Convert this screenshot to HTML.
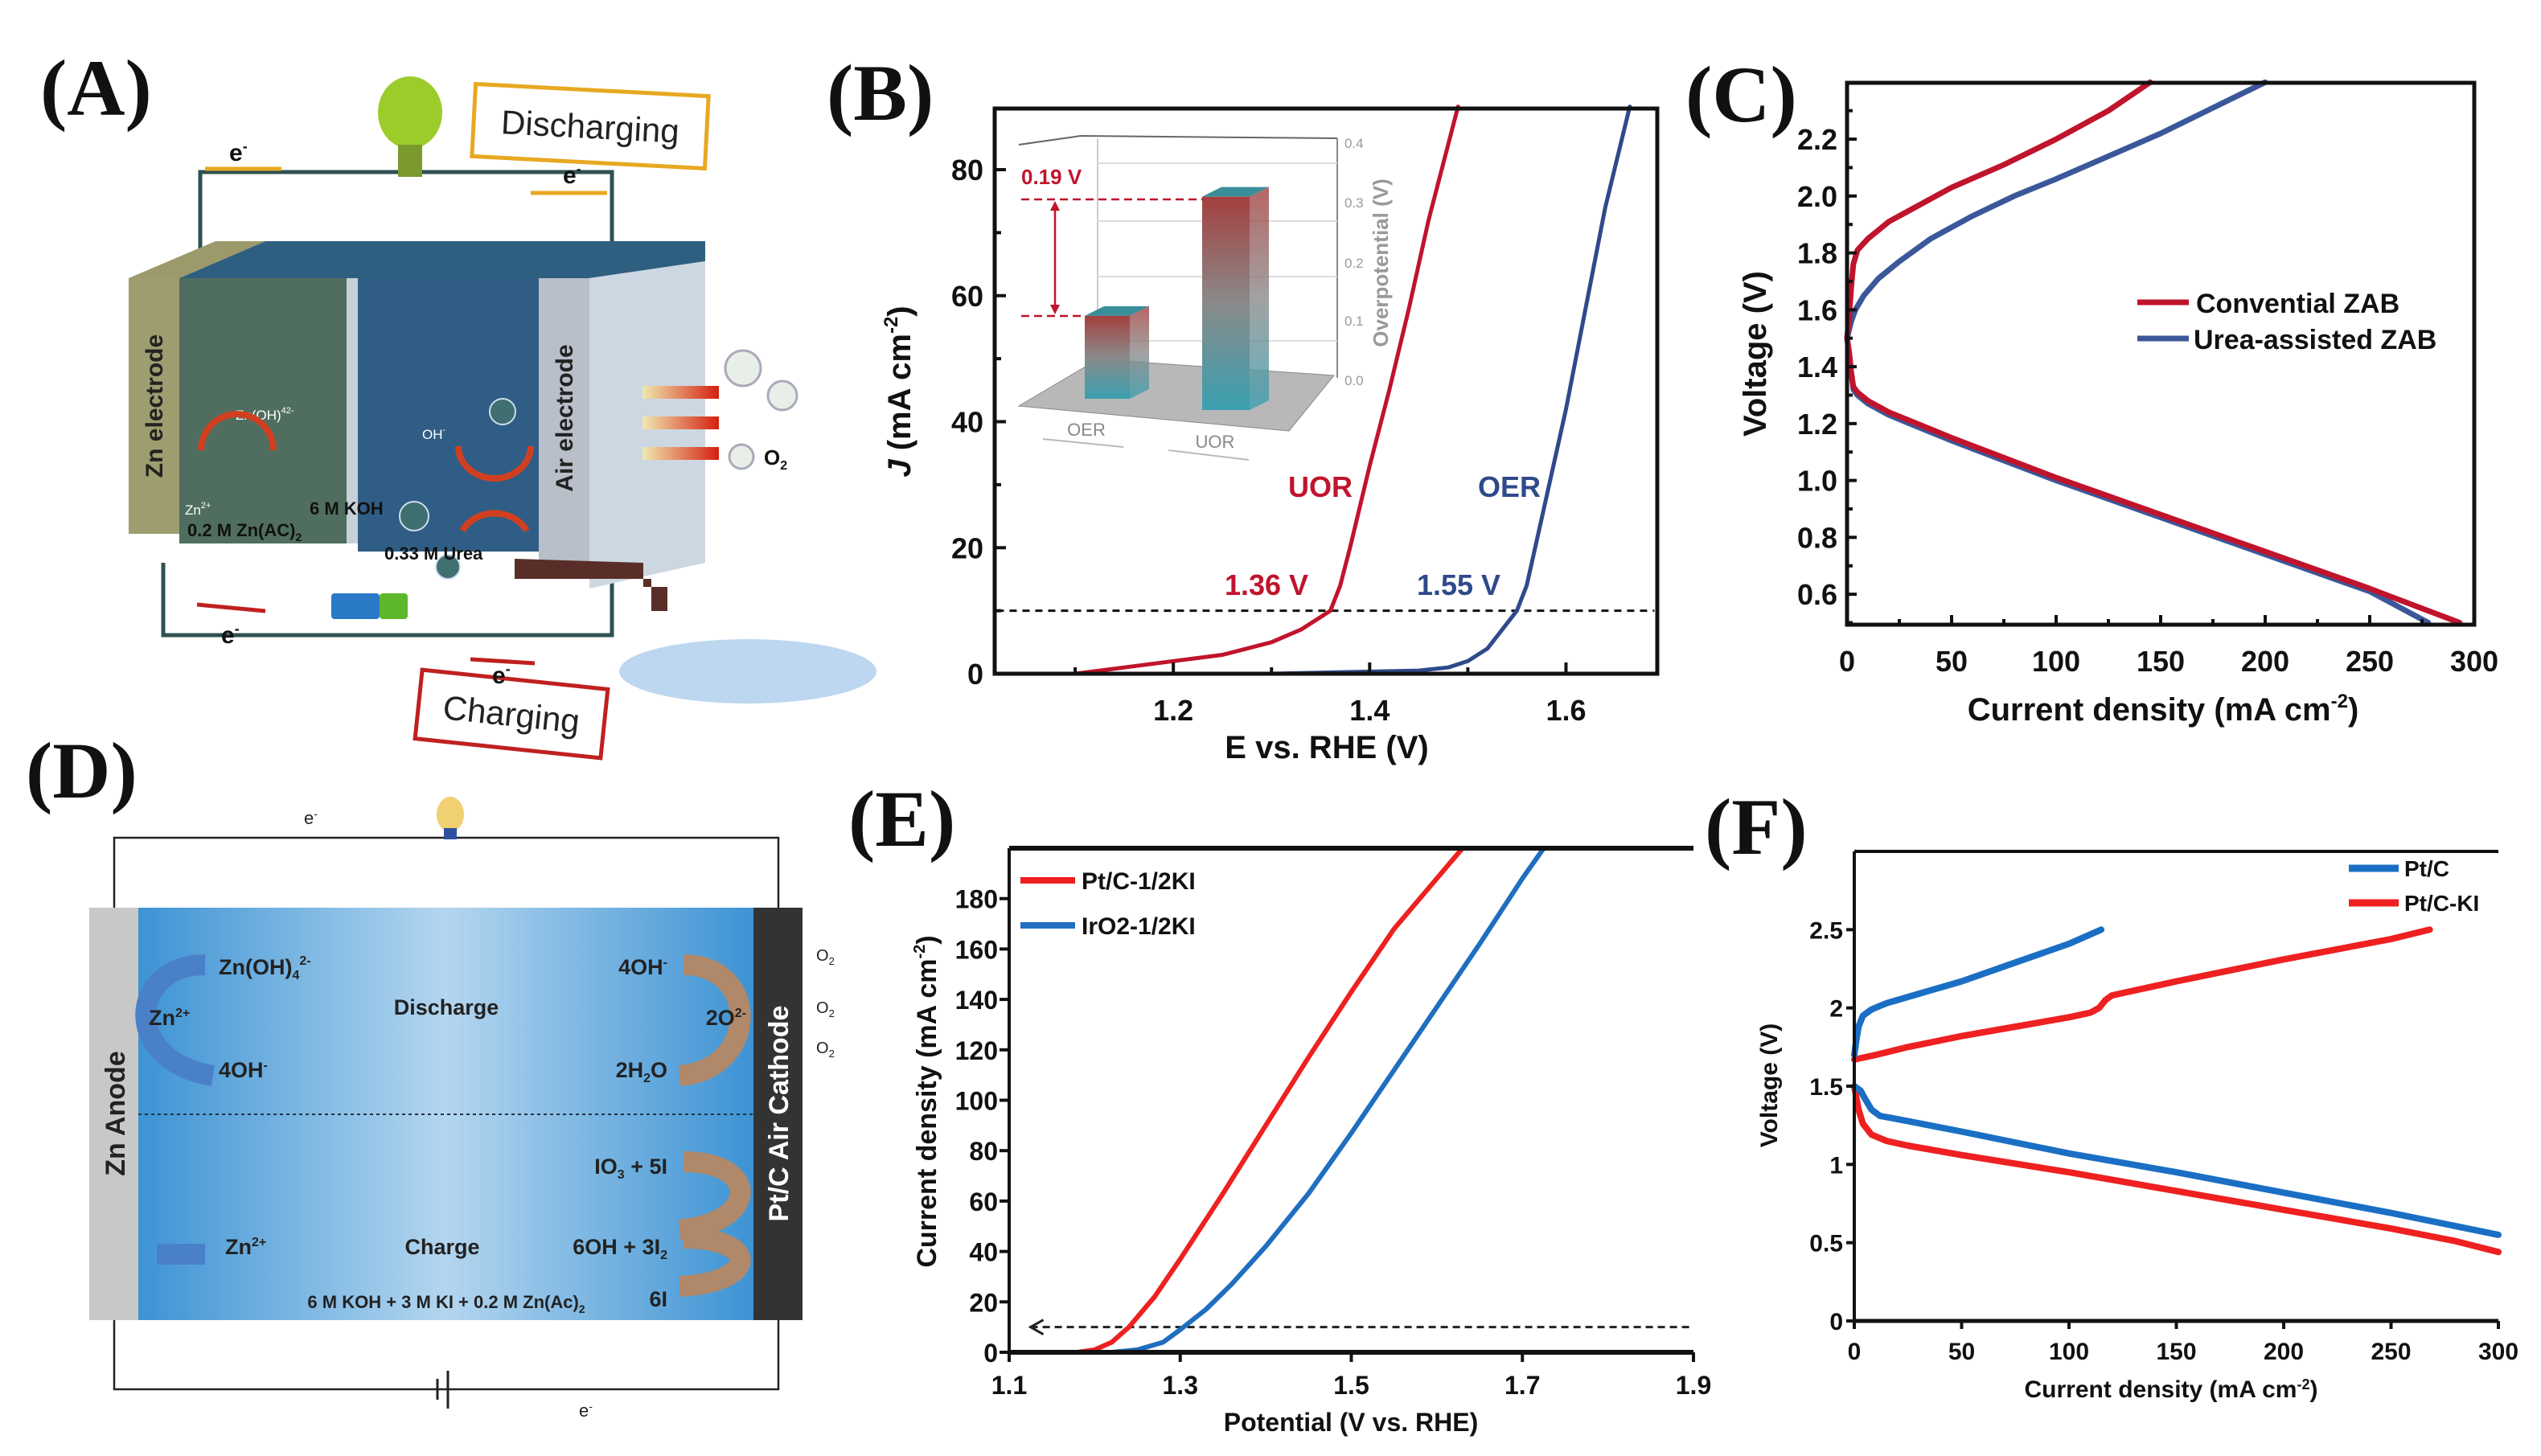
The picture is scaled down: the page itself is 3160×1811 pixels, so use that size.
<!DOCTYPE html>
<html><head><meta charset="utf-8"><style>
html,body{margin:0;padding:0;background:#fff;}
svg{display:block;font-family:"Liberation Sans",sans-serif;}
</style></head><body>
<svg id="fig" width="3160" height="1811" viewBox="0 0 3160 1811" xmlns="http://www.w3.org/2000/svg">
<defs>
<linearGradient id="gD" x1="0" x2="1" y1="0" y2="0"><stop offset="0" stop-color="#3d93d4"/><stop offset="0.5" stop-color="#b4d6ef"/><stop offset="1" stop-color="#3d93d4"/></linearGradient>
<linearGradient id="barG" x1="0" x2="0" y1="0" y2="1"><stop offset="0" stop-color="#a4403f"/><stop offset="0.5" stop-color="#8a8a8a"/><stop offset="1" stop-color="#3aa0b0"/></linearGradient>
<linearGradient id="arrO" x1="0" x2="1"><stop offset="0" stop-color="#d42010"/><stop offset="1" stop-color="#f0e8b0"/></linearGradient>
</defs>

<!-- panel labels -->
<g font-family="Liberation Serif, serif" font-weight="bold" font-size="100" fill="#111">
<text x="50" y="143">(A)</text>
<text x="1028" y="149">(B)</text>
<text x="2096" y="151">(C)</text>
<text x="32" y="992">(D)</text>
<text x="1055" y="1052">(E)</text>
<text x="2120" y="1062">(F)</text>
</g>

<!-- Panel A schematic -->
<g>
<polyline points="249,330 249,214 761,214 761,330" fill="none" stroke="#2f5050" stroke-width="5"/>
<polyline points="203,700 203,790 761,790 761,700" fill="none" stroke="#2f5050" stroke-width="5"/>
<polygon points="223,346 330,300 877,300 877,325 733,346" fill="#2f5f80"/>
<polygon points="160,346 223,346 330,300 268,300" fill="#9c9a6a"/>
<rect x="160" y="346" width="63" height="318" fill="#9e9d70"/>
<rect x="223" y="346" width="208" height="330" fill="#4f6e5f"/>
<rect x="431" y="346" width="14" height="330" fill="#c8d0d8"/>
<rect x="445" y="346" width="225" height="340" fill="#2f5d85"/>
<rect x="670" y="346" width="63" height="352" fill="#b8bfc8"/>
<polygon points="733,346 877,325 877,700 733,732" fill="#cdd7e2"/>
<text transform="translate(202,505) rotate(-90)" text-anchor="middle" font-weight="bold" font-size="30" fill="#222">Zn electrode</text>
<text transform="translate(712,520) rotate(-90)" text-anchor="middle" font-weight="bold" font-size="30" fill="#222">Air electrode</text>
<g font-size="17" fill="#fff"><text x="293" y="522">Zn(OH)<tspan font-size="11" dy="-8">4</tspan><tspan font-size="11">2-</tspan></text><text x="230" y="640">Zn<tspan font-size="11" dy="-8">2+</tspan></text>
<text x="525" y="546">OH<tspan font-size="11" dy="-8">-</tspan></text><text x="610" y="708">Urea</text></g>
<circle cx="278" cy="520" r="0" />
<path d="M250,560 A40,40 0 1,1 340,560" fill="none" stroke="#d04020" stroke-width="8"/>
<path d="M570,555 A45,40 0 0,0 660,555" fill="none" stroke="#d04020" stroke-width="8"/>
<path d="M575,660 A45,40 0 0,1 655,660" fill="none" stroke="#d04020" stroke-width="8"/>
<circle cx="625" cy="512" r="16" fill="#3f6f70" stroke="#cde" stroke-width="2"/><circle cx="515" cy="642" r="18" fill="#3f6f70" stroke="#cde" stroke-width="2"/><circle cx="557" cy="705" r="15" fill="#3f6f70" stroke="#cde" stroke-width="2"/>
<g font-weight="bold" font-size="22" fill="#111"><text x="385" y="640">6 M KOH</text><text x="233" y="667">0.2 M Zn(AC)<tspan font-size="14" dy="6">2</tspan></text><text x="478" y="696">0.33 M Urea</text></g>
<g><rect x="800" y="480" width="95" height="16" fill="url(#arrO)" transform="rotate(180 847 488)"/><rect x="800" y="518" width="95" height="16" fill="url(#arrO)" transform="rotate(180 847 526)"/><rect x="800" y="556" width="95" height="16" fill="url(#arrO)" transform="rotate(180 847 564)"/></g>
<circle cx="924" cy="458" r="22" fill="#e8efe8" stroke="#aab" stroke-width="3"/><circle cx="973" cy="492" r="18" fill="#e8efe8" stroke="#aab" stroke-width="3"/><circle cx="922" cy="568" r="15" fill="#e8efe8" stroke="#aab" stroke-width="3"/>
<text x="950" y="578" font-weight="bold" font-size="26" fill="#111">O<tspan font-size="16" dy="6">2</tspan></text>
<ellipse cx="510" cy="140" rx="40" ry="45" fill="#9ccc2a"/><rect x="495" y="180" width="30" height="40" fill="#7a9a30"/>
<rect x="589" y="112" width="290" height="90" fill="#fff" stroke="#e8a820" stroke-width="5" transform="rotate(3 734 157)"/>
<text x="734" y="172" text-anchor="middle" font-size="42" fill="#222" transform="rotate(3 734 157)">Discharging</text>
<rect x="520" y="845" width="232" height="86" fill="#fff" stroke="#c02020" stroke-width="5" transform="rotate(6 636 888)"/>
<text x="636" y="903" text-anchor="middle" font-size="42" fill="#222" transform="rotate(6 636 888)">Charging</text>
<g font-weight="bold" font-size="30" fill="#111"><text x="285" y="200">e<tspan font-size="18" dy="-12">-</tspan></text><text x="700" y="228">e<tspan font-size="18" dy="-12">-</tspan></text><text x="275" y="800">e<tspan font-size="18" dy="-12">-</tspan></text><text x="612" y="850">e<tspan font-size="18" dy="-12">-</tspan></text></g>
<g stroke="#e8a820" stroke-width="5"><line x1="255" y1="210" x2="350" y2="210"/><line x1="660" y1="240" x2="755" y2="240"/></g>
<g stroke="#c02020" stroke-width="5"><line x1="245" y1="752" x2="330" y2="760"/><line x1="585" y1="820" x2="665" y2="825"/></g>
<rect x="412" y="738" width="60" height="32" fill="#2a7ac8" rx="4"/><rect x="472" y="738" width="35" height="32" fill="#5cb82a" rx="4"/>
<path d="M640,695 L800,700 L800,730 L830,730 L830,760 L810,760 L810,720 L640,720 Z" fill="#5a2e28"/>
<ellipse cx="930" cy="835" rx="160" ry="40" fill="#9fc6e8" opacity="0.7"/>
</g>

<!-- Panel D schematic -->
<g>
<polyline points="142,1129 142,1042 968,1042 968,1129" fill="none" stroke="#222" stroke-width="2.5"/>
<polyline points="142,1642 142,1728 968,1728 968,1642" fill="none" stroke="#222" stroke-width="2.5"/>
<line x1="544" y1="1715" x2="544" y2="1741" stroke="#222" stroke-width="3"/><line x1="557" y1="1705" x2="557" y2="1752" stroke="#222" stroke-width="3"/>
<ellipse cx="560" cy="1013" rx="17" ry="22" fill="#f0d070"/><rect x="552" y="1030" width="16" height="14" fill="#3050a0"/>
<text x="378" y="1025" font-size="22" fill="#222">e<tspan font-size="14" dy="-8">-</tspan></text>
<text x="720" y="1762" font-size="22" fill="#222">e<tspan font-size="14" dy="-8">-</tspan></text>
<rect x="111" y="1129" width="61" height="513" fill="#c8c8c8"/>
<rect x="172" y="1129" width="765" height="513" fill="url(#gD)"/>
<rect x="937" y="1129" width="61" height="513" fill="#333"/>
<line x1="172" y1="1386" x2="937" y2="1386" stroke="#234" stroke-width="2" stroke-dasharray="4 4"/>
<text transform="translate(155,1385) rotate(-90)" text-anchor="middle" font-weight="bold" font-size="34" fill="#222">Zn Anode</text>
<text transform="translate(980,1385) rotate(-90)" text-anchor="middle" font-weight="bold" font-size="34" fill="#fff">Pt/C Air Cathode</text>
<path d="M265,1338 C150,1320 160,1200 255,1200" fill="none" stroke="#4a80c8" stroke-width="26"/>
<path d="M255,1560 L195,1560" stroke="#4a80c8" stroke-width="26"/>
<path d="M845,1338 C945,1330 945,1200 850,1200" fill="none" stroke="#b0886a" stroke-width="26"/>
<path d="M845,1530 C945,1520 945,1445 850,1445" fill="none" stroke="#b0886a" stroke-width="26"/>
<path d="M845,1600 C945,1595 945,1540 850,1540" fill="none" stroke="#b0886a" stroke-width="26"/>
<g font-weight="bold" font-size="27" fill="#222">
<text x="272" y="1212">Zn(OH)<tspan font-size="16" dy="6">4</tspan><tspan font-size="16" dy="-18">2-</tspan></text>
<text x="185" y="1275">Zn<tspan font-size="16" dy="-10">2+</tspan></text>
<text x="272" y="1340">4OH<tspan font-size="16" dy="-10">-</tspan></text>
<text x="555" y="1262" text-anchor="middle">Discharge</text>
<text x="830" y="1212" text-anchor="end">4OH<tspan font-size="16" dy="-10">-</tspan></text>
<text x="928" y="1275" text-anchor="end">2O<tspan font-size="16" dy="-10">2-</tspan></text>
<text x="830" y="1340" text-anchor="end">2H<tspan font-size="16" dy="6">2</tspan><tspan dy="-6">O</tspan></text>
<text x="830" y="1460" text-anchor="end">IO<tspan font-size="16" dy="6">3</tspan><tspan dy="-6"> + 5I</tspan></text>
<text x="280" y="1560">Zn<tspan font-size="16" dy="-10">2+</tspan></text>
<text x="550" y="1560" text-anchor="middle">Charge</text>
<text x="830" y="1560" text-anchor="end">6OH<tspan dy="0"> + 3I</tspan><tspan font-size="16" dy="6">2</tspan></text>
<text x="830" y="1625" text-anchor="end">6I</text>
<text x="555" y="1627" text-anchor="middle" font-size="22">6 M KOH + 3 M KI + 0.2 M Zn(Ac)<tspan font-size="14" dy="6">2</tspan></text>
</g>
<g font-size="20" fill="#222"><text x="1015" y="1195">O<tspan font-size="13" dy="5">2</tspan></text><text x="1015" y="1260">O<tspan font-size="13" dy="5">2</tspan></text><text x="1015" y="1310">O<tspan font-size="13" dy="5">2</tspan></text></g>
</g>

<!-- Panel B inset -->
<g>
<polyline points="1267,180 1344,169 1663,172" fill="none" stroke="#666" stroke-width="2"/>
<line x1="1365" y1="172" x2="1365" y2="447" stroke="#ccc" stroke-width="2"/>
<line x1="1663" y1="172" x2="1663" y2="470" stroke="#888" stroke-width="2"/>
<g stroke="#ddd" stroke-width="2"><line x1="1365" y1="203" x2="1663" y2="203"/><line x1="1365" y1="275" x2="1663" y2="275"/><line x1="1365" y1="344" x2="1663" y2="344"/><line x1="1365" y1="424" x2="1663" y2="424"/></g>
<polygon points="1267,505 1365,447 1659,467 1603,536" fill="#b8b8b8" stroke="#888" stroke-width="1"/>
<g font-size="17" fill="#999"><text x="1672" y="479">0.0</text><text x="1672" y="405">0.1</text><text x="1672" y="333">0.2</text><text x="1672" y="258">0.3</text><text x="1672" y="184">0.4</text></g>
<text transform="translate(1726,327) rotate(-90)" text-anchor="middle" font-size="26" font-weight="bold" fill="#999">Overpotential (V)</text>
<g id="insetBars"></g>
<g font-size="22" fill="#888"><text x="1351" y="542" text-anchor="middle">OER</text><text x="1511" y="557" text-anchor="middle">UOR</text></g>
<g stroke="#bbb" stroke-width="2"><line x1="1297" y1="546" x2="1397" y2="556"/><line x1="1453" y1="560" x2="1553" y2="572"/></g>
<text x="1270" y="229" font-size="26" font-weight="bold" fill="#c0142c">0.19 V</text>
<g stroke="#c0142c" stroke-width="2.5" stroke-dasharray="10 6"><line x1="1270" y1="248" x2="1495" y2="248"/><line x1="1270" y1="393" x2="1349" y2="393"/></g>
<line x1="1312" y1="256" x2="1312" y2="385" stroke="#c0142c" stroke-width="2.5"/>
<polygon points="1306,262 1318,262 1312,250" fill="#c0142c"/><polygon points="1306,379 1318,379 1312,391" fill="#c0142c"/>
</g>

<g id="plots"></g>
</svg>
<script>
// ---------- data ----------
const bUorX = [1.10,1.15,1.20,1.25,1.30,1.33,1.35,1.36,1.37,1.38,1.40,1.42,1.44,1.46,1.49];
const bUorY = [0,1,2,3,5,7,9,10,14,20,33,45,58,72,90];
const bOerX = [1.02,1.30,1.45,1.48,1.50,1.52,1.53,1.54,1.55,1.56,1.58,1.60,1.62,1.64,1.665];
const bOerY = [0,0,0.5,1,2,4,6,8,10,14,28,42,58,74,90];
const bXTicks = [1.2,1.4,1.6];
const bYTicks = [0,20,40,60,80];
const insetCats = ['OER','UOR'];
const insetVals = [0.14,0.36];

const cRedDisX = [0,1,2,3,5,10,20,30,50,75,100,150,200,250,293];
const cRedDisY = [1.50,1.45,1.38,1.33,1.31,1.28,1.24,1.21,1.15,1.08,1.01,0.88,0.75,0.62,0.50];
const cRedChX = [0,1,2,3,5,10,20,30,50,75,100,125,145];
const cRedChY = [1.50,1.58,1.68,1.76,1.81,1.85,1.91,1.95,2.03,2.11,2.20,2.30,2.40];
const cBlueChX = [0,2,4,8,15,25,40,60,80,100,125,150,175,200];
const cBlueChY = [1.50,1.56,1.60,1.65,1.71,1.77,1.85,1.93,2.00,2.06,2.14,2.22,2.31,2.40];
const cBlueDisX = [0,1,2,3,5,10,20,30,50,75,100,150,200,250,278];
const cBlueDisY = [1.50,1.45,1.38,1.32,1.30,1.27,1.23,1.20,1.14,1.07,1.00,0.87,0.74,0.61,0.50];
const cXTicks = [0,50,100,150,200,250,300];
const cYTicks = [0.6,0.8,1.0,1.2,1.4,1.6,1.8,2.0,2.2];

const eRedX = [1.13,1.18,1.20,1.22,1.24,1.27,1.30,1.35,1.40,1.45,1.50,1.55,1.60,1.63];
const eRedY = [0,0,1,4,10,22,37,63,90,117,143,168,188,200];
const eBlueX = [1.13,1.22,1.25,1.28,1.30,1.33,1.36,1.40,1.45,1.50,1.55,1.60,1.65,1.70,1.725];
const eBlueY = [0,0,1,4,9,17,27,42,63,87,112,137,162,188,200];
const eXTicks = ['1.1','1.3','1.5','1.7','1.9'];
const eYTicks = [0,20,40,60,80,100,120,140,160,180];

const fBlueChX = [0,1,2,4,8,15,25,50,75,100,115];
const fBlueChY = [1.70,1.80,1.88,1.95,1.99,2.03,2.07,2.17,2.29,2.41,2.50];
const fRedChX = [0,10,25,50,75,100,110,114,117,120,150,200,250,268];
const fRedChY = [1.67,1.70,1.75,1.82,1.88,1.94,1.97,2.00,2.05,2.08,2.17,2.31,2.44,2.50];
const fBlueDisX = [0,3,5,8,12,20,50,100,150,200,250,300];
const fBlueDisY = [1.50,1.47,1.42,1.35,1.31,1.29,1.21,1.07,0.95,0.82,0.69,0.55];
const fRedDisX = [0,2,4,8,15,25,50,100,150,200,250,280,300];
const fRedDisY = [1.50,1.35,1.26,1.19,1.15,1.12,1.06,0.95,0.83,0.71,0.59,0.51,0.44];
const fXTicks = [0,50,100,150,200,250,300];
const fYTicks = ['0','0.5','1','1.5','2','2.5'];

// ---------- helpers ----------
const NS = 'http://www.w3.org/2000/svg';
const root = document.getElementById('plots');
function el(tag, parent){ const e = document.createElementNS(NS, tag); parent.appendChild(e); return e; }
function scale(d0,d1,r0,r1){ return v => r0 + (v-d0)/(d1-d0)*(r1-r0); }

const P = {
  B:{x:scale(1.018,1.693,1237,2061), y:scale(0,89.7,838,135), L:1237,R:2061,T:135,Bt:838},
  C:{x:scale(0,300,2297,3077), y:scale(0.493,2.398,777,103), L:2297,R:3077,T:103,Bt:777},
  E:{x:scale(1.1,1.9,1255,2106), y:scale(0,200,1682,1055), L:1255,R:2106,T:1055,Bt:1682},
  F:{x:scale(0,300,2306,3107), y:scale(0,3,1643,1059), L:2306,R:3107,T:1059,Bt:1643}
};

function series(p, xs, ys, color, w, name){
  const g = el('polyline', root);
  g.setAttribute('points', xs.map((x,i)=>p.x(x).toFixed(1)+','+p.y(ys[i]).toFixed(1)).join(' '));
  g.setAttribute('fill','none'); g.setAttribute('stroke',color); g.setAttribute('stroke-width',w);
  g.setAttribute('stroke-linejoin','round'); g.setAttribute('stroke-linecap','round');
  
  
}
function txt(x,y,s,size,opts){
  const t = el('text', root);
  t.setAttribute('x',x); t.setAttribute('y',y); t.setAttribute('font-size',size);
  t.setAttribute('font-weight','bold'); t.setAttribute('fill',(opts&&opts.fill)||'#111');
  if(opts&&opts.anchor) t.setAttribute('text-anchor',opts.anchor);
  if(opts&&opts.rot) t.setAttribute('transform','rotate(-90 '+x+' '+y+')');
  if(opts&&opts.family) t.setAttribute('font-family',opts.family);
  t.textContent = s;
  return t;
}
function line(x1,y1,x2,y2,w,c,dash){
  const l = el('line', root);
  l.setAttribute('x1',x1); l.setAttribute('y1',y1); l.setAttribute('x2',x2); l.setAttribute('y2',y2);
  l.setAttribute('stroke',c||'#111'); l.setAttribute('stroke-width',w);
  if(dash) l.setAttribute('stroke-dasharray',dash);
  return l;
}

// ---------- inset bars ----------
(function(){
  const g = document.getElementById('insetBars');
  const fx = [1349,1495], fw=[56,59], bottoms=[496,510], unit=737;
  insetCats.forEach((c,i)=>{
    const top = bottoms[i] - insetVals[i]*unit;
    const side = el('polygon', g);
    side.setAttribute('points', `${fx[i]+fw[i]},${top} ${fx[i]+fw[i]+24},${top-12} ${fx[i]+fw[i]+24},${bottoms[i]-12} ${fx[i]+fw[i]},${bottoms[i]}`);
    side.setAttribute('fill','url(#barG)'); side.setAttribute('opacity','0.8');
    
    
    const tp = el('polygon', g);
    tp.setAttribute('points', `${fx[i]},${top} ${fx[i]+fw[i]},${top} ${fx[i]+fw[i]+24},${top-12} ${fx[i]+24},${top-12}`);
    tp.setAttribute('fill','#3a8e9a');
    
    
    const r = el('rect', g);
    r.setAttribute('x',fx[i]); r.setAttribute('y',top); r.setAttribute('width',fw[i]); r.setAttribute('height',bottoms[i]-top);
    r.setAttribute('fill','url(#barG)');
    
    
  });
})();

// ---------- Panel B ----------
(function(){
  const p=P.B;
  const dl = line(p.x(1.02), p.y(10), p.x(1.69), p.y(10), 3, '#111', '9 7');
  
  
  series(p,bUorX,bUorY,'#c0142c',5,'b-uor-curve');
  series(p,bOerX,bOerY,'#2e4a8a',5,'b-oer-curve');
  const fr = el('rect', root);
  fr.setAttribute('x',p.L); fr.setAttribute('y',p.T); fr.setAttribute('width',p.R-p.L); fr.setAttribute('height',p.Bt-p.T);
  fr.setAttribute('fill','none'); fr.setAttribute('stroke','#111'); fr.setAttribute('stroke-width',5);
  
  
  bXTicks.forEach(v=>{ line(p.x(v),p.Bt,p.x(v),p.Bt-14,4); const t=txt(p.x(v),p.Bt+58,v.toFixed(1),36,{anchor:'middle'});
    
     });
  [1.1,1.3,1.5].forEach(v=>line(p.x(v),p.Bt,p.x(v),p.Bt-8,4));
  bYTicks.forEach(v=>{ line(p.L,p.y(v),p.L+14,p.y(v),4); const t=txt(p.L-14,p.y(v)+13,String(v),36,{anchor:'end'});
    
     });
  [10,30,50,70].forEach(v=>line(p.L,p.y(v),p.L+8,p.y(v),4));
  let t=txt(1650,943,'E vs. RHE (V)',40,{anchor:'middle'});
  
  
  t=txt(1132,487,'',40,{anchor:'middle',rot:true});
  t.innerHTML='<tspan font-style="italic">J</tspan> (mA cm<tspan font-size="24" dy="-16">-2</tspan><tspan dy="16">)</tspan>';
  
  
  t=txt(1642,618,'UOR',36,{anchor:'middle',fill:'#c0142c'});  
  t=txt(1877,618,'OER',36,{anchor:'middle',fill:'#2e4a8a'});  
  t=txt(1575,740,'1.36 V',36,{anchor:'middle',fill:'#c0142c'});  
  t=txt(1814,740,'1.55 V',36,{anchor:'middle',fill:'#2e4a8a'});  
})();

// ---------- Panel C ----------
(function(){
  const p=P.C;
  series(p,cBlueDisX,cBlueDisY,'#3a5799',7,'c-urea-discharge');
  series(p,cBlueChX,cBlueChY,'#3a5799',7,'c-urea-charge');
  series(p,cRedDisX,cRedDisY,'#c0142c',7,'c-conventional-discharge');
  series(p,cRedChX,cRedChY,'#c0142c',7,'c-conventional-charge');
  const fr = el('rect', root);
  fr.setAttribute('x',p.L); fr.setAttribute('y',p.T); fr.setAttribute('width',p.R-p.L); fr.setAttribute('height',p.Bt-p.T);
  fr.setAttribute('fill','none'); fr.setAttribute('stroke','#111'); fr.setAttribute('stroke-width',5);
  
  
  cXTicks.forEach(v=>{ line(p.x(v),p.Bt,p.x(v),p.Bt-12,4); const t=txt(p.x(v),p.Bt+58,String(v),36,{anchor:'middle'});
    
     });
  [25,75,125,175,225,275].forEach(v=>line(p.x(v),p.Bt,p.x(v),p.Bt-7,4));
  cYTicks.forEach(v=>{ line(p.L,p.y(v),p.L+12,p.y(v),4); const t=txt(p.L-12,p.y(v)+13,v.toFixed(1),36,{anchor:'end'});
    
     });
  [0.5,0.7,0.9,1.1,1.3,1.5,1.7,1.9,2.1,2.3].forEach(v=>line(p.L,p.y(v),p.L+7,p.y(v),4));
  let t=txt(2690,896,'',40,{anchor:'middle'});
  t.innerHTML='Current density (mA cm<tspan font-size="24" dy="-16">-2</tspan><tspan dy="16">)</tspan>';
  
  
  t=txt(2196,440,'Voltage (V)',40,{anchor:'middle',rot:true});
  
  
  let l=line(2658,376,2722,376,7,'#c0142c');  
  l=line(2658,421,2722,421,7,'#3a5799');  
  t=txt(2731,389,'Convential ZAB',34);  
  t=txt(2728,434,'Urea-assisted ZAB',34);  
})();

// ---------- Panel E ----------
(function(){
  const p=P.E;
  const NF='"Liberation Sans Narrow","Liberation Sans",sans-serif';
  const dl=line(p.x(1.125),p.y(10),p.x(1.9),p.y(10),3,'#222','9 6');
  
  
  const ah=el('polyline',root); ah.setAttribute('points',`${p.x(1.14)},${p.y(10)-9} ${p.x(1.125)},${p.y(10)} ${p.x(1.14)},${p.y(10)+9}`);
  ah.setAttribute('fill','none'); ah.setAttribute('stroke','#222'); ah.setAttribute('stroke-width',3);
  
  
  series(p,eRedX,eRedY,'#ee2020',6,'e-ptc-ki-curve');
  series(p,eBlueX,eBlueY,'#1f6ec0',6,'e-iro2-ki-curve');
  line(p.L,p.T,p.L,p.Bt,4); line(p.L,p.Bt,p.R,p.Bt,6); line(p.L,p.T,p.R,p.T,6);
  eXTicks.forEach(v=>{ line(p.x(+v),p.Bt,p.x(+v),p.Bt+12,4); const t=txt(p.x(+v),p.Bt+52,v,32,{anchor:'middle',family:NF});
    
     });
  eYTicks.forEach(v=>{ line(p.L,p.y(v),p.L-12,p.y(v),4); const t=txt(p.L-14,p.y(v)+12,String(v),32,{anchor:'end',family:NF});
    
     });
  let t=txt(1680,1780,'Potential (V vs. RHE)',32,{anchor:'middle',family:NF});
  
  
  t=txt(1164,1370,'',34,{anchor:'middle',rot:true});
  t.innerHTML='Current density (mA cm<tspan font-size="20" dy="-14">-2</tspan><tspan dy="14">)</tspan>';
  
  
  let l=line(1269,1095,1337,1095,8,'#ee2020');  
  l=line(1269,1151,1337,1151,8,'#1f6ec0');  
  t=txt(1345,1106,'Pt/C-1/2KI',30,{family:NF});  
  t=txt(1345,1162,'IrO2-1/2KI',30,{family:NF});  
})();

// ---------- Panel F ----------
(function(){
  const p=P.F;
  const NF='"Liberation Sans Narrow","Liberation Sans",sans-serif';
  series(p,fRedDisX,fRedDisY,'#ee2020',8,'f-ptc-ki-discharge');
  series(p,fRedChX,fRedChY,'#ee2020',8,'f-ptc-ki-charge');
  series(p,fBlueDisX,fBlueDisY,'#1a6fc4',8,'f-ptc-discharge');
  series(p,fBlueChX,fBlueChY,'#1a6fc4',8,'f-ptc-charge');
  line(p.L,p.T,p.L,p.Bt,4); line(p.L,p.Bt,p.R,p.Bt,5); line(p.L,p.T,p.R,p.T,4);
  fXTicks.forEach(v=>{ line(p.x(v),p.Bt,p.x(v),p.Bt+10,4); const t=txt(p.x(v),p.Bt+48,String(v),30,{anchor:'middle',family:NF});
    
     });
  fYTicks.forEach(v=>{ line(p.L,p.y(+v),p.L-10,p.y(+v),4); const t=txt(p.L-14,p.y(+v)+11,v,30,{anchor:'end',family:NF});
    
     });
  let t=txt(2700,1738,'',30,{anchor:'middle',family:NF});
  t.innerHTML='Current density (mA cm<tspan font-size="18" dy="-10">-2</tspan><tspan dy="10">)</tspan>';
  
  
  t=txt(2210,1350,'Voltage (V)',30,{anchor:'middle',rot:true,family:NF});
  
  
  let l=line(2921,1080,2983,1080,9,'#1a6fc4');  
  l=line(2921,1123,2983,1123,9,'#ee2020');  
  t=txt(2990,1090,'Pt/C',28,{family:NF});  
  t=txt(2990,1133,'Pt/C-KI',28,{family:NF});  
})();
</script>
</body></html>
